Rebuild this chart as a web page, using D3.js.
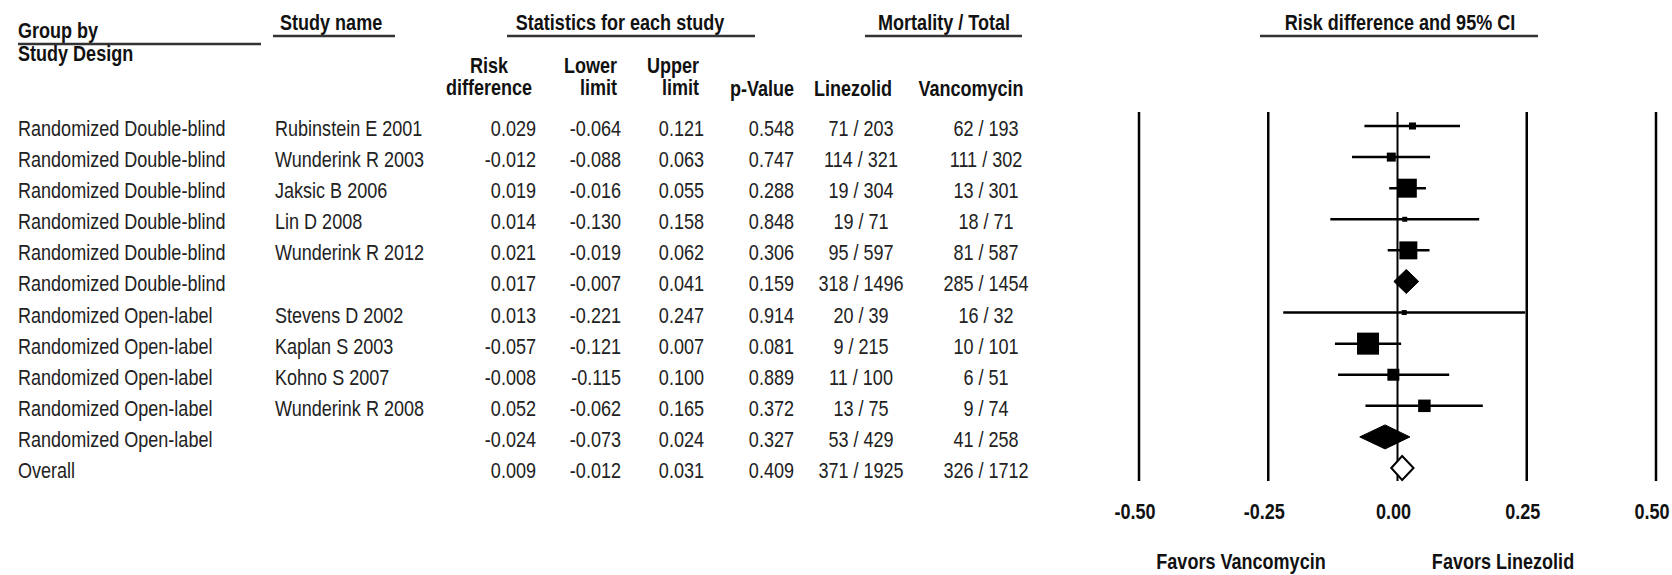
<!DOCTYPE html>
<html>
<head>
<meta charset="utf-8">
<script src="https://cdn.jsdelivr.net/npm/d3@7"></script>
<style>
  html, body { margin: 0; padding: 0; background: #fff; }
  svg { display: block; }
</style>
</head>
<body>
<svg id="chart" width="1672" height="575"></svg>
<script>
// ---- Data -------------------------------------------------------------
const designs = [
  "Randomized Double-blind", "Randomized Double-blind", "Randomized Double-blind",
  "Randomized Double-blind", "Randomized Double-blind", "Randomized Double-blind",
  "Randomized Open-label", "Randomized Open-label", "Randomized Open-label",
  "Randomized Open-label", "Randomized Open-label", "Overall"
];
const studies = [
  "Rubinstein E 2001", "Wunderink R 2003", "Jaksic B 2006", "Lin D 2008", "Wunderink R 2012", "",
  "Stevens D 2002", "Kaplan S 2003", "Kohno S 2007", "Wunderink R 2008", "", ""
];
const rowKind = [
  "study", "study", "study", "study", "study", "subtotal",
  "study", "study", "study", "study", "subtotal", "overall"
];
const riskDiff   = [0.029, -0.012, 0.019, 0.014, 0.021, 0.017, 0.013, -0.057, -0.008, 0.052, -0.024, 0.009];
const lowerLimit = [-0.064, -0.088, -0.016, -0.130, -0.019, -0.007, -0.221, -0.121, -0.115, -0.062, -0.073, -0.012];
const upperLimit = [0.121, 0.063, 0.055, 0.158, 0.062, 0.041, 0.247, 0.007, 0.100, 0.165, 0.024, 0.031];
const pValues    = [0.548, 0.747, 0.288, 0.848, 0.306, 0.159, 0.914, 0.081, 0.889, 0.372, 0.327, 0.409];
const linezolidEvents = [71, 114, 19, 19, 95, 318, 20, 9, 11, 13, 53, 371];
const linezolidTotal  = [203, 321, 304, 71, 597, 1496, 39, 215, 100, 75, 429, 1925];
const vancomycinEvents = [62, 111, 13, 18, 81, 285, 16, 10, 6, 9, 41, 326];
const vancomycinTotal  = [193, 302, 301, 71, 587, 1454, 32, 101, 51, 74, 258, 1712];
// relative study weight used for the area of each study box
const boxWeight = [3.0, 4.9, 21.9, 1.5, 19.6, null, 1.5, 29.4, 8.7, 9.5, null, null];

const axisTicks = [-0.50, -0.25, 0.00, 0.25, 0.50];
const tickLabels = ["-0.50", "-0.25", "0.00", "0.25", "0.50"];
const favorsLabels = ["Favors Vancomycin", "Favors Linezolid"];

// ---- Font handling -----------------------------------------------------
function fontAvailable(name) {
  const ctx = document.createElement("canvas").getContext("2d");
  const sample = "Randomized Double-blind 0.123";
  ctx.font = "22px monospace";
  const a = ctx.measureText(sample).width;
  ctx.font = `22px "${name}", monospace`;
  const b = ctx.measureText(sample).width;
  return Math.abs(a - b) > 0.5;
}
const hasNarrow = fontAvailable("Liberation Sans Narrow");
const FONT = hasNarrow
  ? '"Liberation Sans Narrow", "Arial Narrow", sans-serif'
  : '"Liberation Sans", Arial, sans-serif';
const SX = hasNarrow ? 1 : 0.82;   // condense the regular face when no narrow face exists

const svg = d3.select("#chart");

function label(g, x, y, text, opts = {}) {
  const { anchor = "start", weight = "normal", size = 22, fill = "#222" } = opts;
  return g.append("text")
    .attr("transform", `translate(${x},${y}) scale(${SX},1)`)
    .attr("text-anchor", anchor)
    .attr("font-family", FONT)
    .attr("font-size", size)
    .attr("font-weight", weight)
    .attr("fill", fill)
    .text(text);
}

// ---- Scales ------------------------------------------------------------
const rows = d3.range(designs.length);
const y = d3.scalePoint().domain(rows).range([126, 468]);
const x = d3.scaleLinear().domain([-0.5, 0.5]).range([1139, 1656]);
const boxSize = d3.scaleSqrt().domain([0, d3.max(boxWeight)]).range([0, 22]);

// ---- Header ------------------------------------------------------------
const head = svg.append("g").attr("class", "header");
const headStyle = { weight: "bold", fill: "#111" };

const titles = [
  { text: "Group by", x: 18, y: 38, anchor: "start", line: [18, 261], ly: 44 },
  { text: "Study name", x: 280, y: 30, anchor: "start", line: [273, 395], ly: 36 },
  { text: "Statistics for each study", x: 620, y: 30, anchor: "middle", line: [507, 755], ly: 36 },
  { text: "Mortality / Total", x: 944, y: 30, anchor: "middle", line: [865, 1022], ly: 36 },
  { text: "Risk difference and 95% CI", x: 1400, y: 30, anchor: "middle", line: [1260, 1538], ly: 36 }
];
titles.forEach(t => {
  label(head, t.x, t.y, t.text, { ...headStyle, anchor: t.anchor });
  head.append("line")
    .attr("x1", t.line[0]).attr("x2", t.line[1])
    .attr("y1", t.ly).attr("y2", t.ly)
    .attr("stroke", "#333").attr("stroke-width", 2.5);
});
label(head, 18, 61, "Study Design", headStyle);

const subHeads = [
  { text: "Risk", x: 489, y: 73, anchor: "middle" },
  { text: "difference", x: 489, y: 95, anchor: "middle" },
  { text: "Lower", x: 617, y: 73, anchor: "end" },
  { text: "limit", x: 617, y: 95, anchor: "end" },
  { text: "Upper", x: 699, y: 73, anchor: "end" },
  { text: "limit", x: 699, y: 95, anchor: "end" },
  { text: "p-Value", x: 762, y: 96, anchor: "middle" },
  { text: "Linezolid", x: 853, y: 96, anchor: "middle" },
  { text: "Vancomycin", x: 971, y: 96, anchor: "middle" }
];
subHeads.forEach(s => label(head, s.x, s.y, s.text, { ...headStyle, anchor: s.anchor }));

// ---- Table -------------------------------------------------------------
const fmt = v => v.toFixed(3);
const columns = [
  { x: 18,  anchor: "start",  value: i => designs[i] },
  { x: 275, anchor: "start",  value: i => studies[i] },
  { x: 536, anchor: "end",    value: i => fmt(riskDiff[i]) },
  { x: 621, anchor: "end",    value: i => fmt(lowerLimit[i]) },
  { x: 704, anchor: "end",    value: i => fmt(upperLimit[i]) },
  { x: 794, anchor: "end",    value: i => fmt(pValues[i]) },
  { x: 861, anchor: "middle", value: i => `${linezolidEvents[i]} / ${linezolidTotal[i]}` },
  { x: 986, anchor: "middle", value: i => `${vancomycinEvents[i]} / ${vancomycinTotal[i]}` }
];
const table = svg.append("g").attr("class", "table");
rows.forEach(i => {
  columns.forEach(c => {
    const v = c.value(i);
    if (v) label(table, c.x, y(i) + 10, v, { anchor: c.anchor, fill: "#222" });
  });
});

// ---- Forest plot -------------------------------------------------------
const plot = svg.append("g").attr("class", "forest");

plot.selectAll("line.ref")
  .data(axisTicks)
  .join("line")
  .attr("class", "ref")
  .attr("x1", d => x(d)).attr("x2", d => x(d))
  .attr("y1", 112).attr("y2", 481)
  .attr("stroke", "#000")
  .attr("stroke-width", d => d === 0 ? 2 : 2.5);

const studyRows = rows.filter(i => rowKind[i] === "study");

plot.selectAll("line.ci")
  .data(studyRows)
  .join("line")
  .attr("class", "ci")
  .attr("x1", i => x(lowerLimit[i])).attr("x2", i => x(upperLimit[i]))
  .attr("y1", i => y(i)).attr("y2", i => y(i))
  .attr("stroke", "#000").attr("stroke-width", 2.5);

plot.selectAll("rect.box")
  .data(studyRows)
  .join("rect")
  .attr("class", "box")
  .attr("x", i => x(riskDiff[i]) - boxSize(boxWeight[i]) / 2)
  .attr("y", i => y(i) - boxSize(boxWeight[i]) / 2)
  .attr("width", i => boxSize(boxWeight[i]))
  .attr("height", i => boxSize(boxWeight[i]))
  .attr("fill", "#000");

const summaryRows = rows.filter(i => rowKind[i] !== "study");
const halfH = 12;
plot.selectAll("path.diamond")
  .data(summaryRows)
  .join("path")
  .attr("class", "diamond")
  .attr("d", i => {
    const cy = y(i);
    return `M${x(lowerLimit[i])},${cy} L${x(riskDiff[i])},${cy - halfH} ` +
           `L${x(upperLimit[i])},${cy} L${x(riskDiff[i])},${cy + halfH} Z`;
  })
  .attr("fill", i => rowKind[i] === "overall" ? "#fff" : "#000")
  .attr("stroke", "#000")
  .attr("stroke-width", i => rowKind[i] === "overall" ? 2 : 1)
  .attr("stroke-linejoin", "miter");

// ---- Axis labels -------------------------------------------------------
const axisG = svg.append("g").attr("class", "axis-labels");
axisTicks.forEach((t, k) => {
  label(axisG, x(t) - 4, 519, tickLabels[k], { ...headStyle, anchor: "middle" });
});
label(axisG, 1241, 569, favorsLabels[0], { ...headStyle, anchor: "middle" });
label(axisG, 1503, 569, favorsLabels[1], { ...headStyle, anchor: "middle" });
</script>
</body>
</html>
